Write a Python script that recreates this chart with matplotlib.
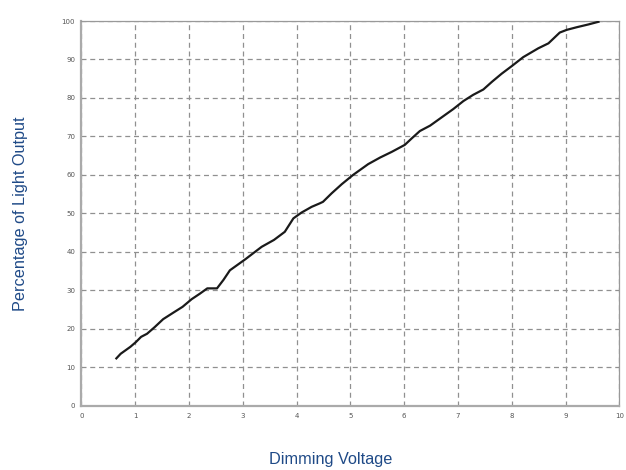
import matplotlib
matplotlib.use("Agg")
import matplotlib.pyplot as plt

voltage = [0.65, 0.73, 0.83, 0.91, 1.01, 1.11, 1.22, 1.36, 1.52, 1.71, 1.88, 2.05,
           2.20, 2.34, 2.52, 2.64, 2.76, 2.90, 3.05, 3.19, 3.35, 3.58, 3.78, 3.94,
           4.09, 4.28, 4.43, 4.49, 4.65, 4.84, 5.05, 5.33, 5.55, 5.77, 6.01, 6.14,
           6.29, 6.48, 6.70, 6.91, 7.10, 7.28, 7.47, 7.63, 7.81, 8.00, 8.21, 8.49,
           8.68, 8.89, 9.02, 9.21, 9.42, 9.61]
light_output = [12.3, 13.5, 14.5, 15.3, 16.5, 17.9, 18.7, 20.4, 22.5, 24.2, 25.7, 27.7,
                29.1, 30.5, 30.5, 32.7, 35.2, 36.6, 38.1, 39.6, 41.3, 43.1, 45.2, 48.7,
                50.2, 51.7, 52.6, 53.0, 55.2, 57.6, 60.0, 62.8, 64.5, 66.0, 67.8, 69.5,
                71.4, 72.8, 75.0, 77.1, 79.2, 80.8, 82.2, 84.2, 86.3, 88.3, 90.6, 92.9,
                94.2, 97.0, 97.7, 98.4, 99.1, 99.8]
x_ticks = [0, 1, 2, 3, 4, 5, 6, 7, 8, 9, 10]
y_ticks = [0, 10, 20, 30, 40, 50, 60, 70, 80, 90, 100]

fig = plt.figure(figsize=(6.26, 4.70), dpi=100)
ax = fig.add_axes([0.130, 0.1368, 0.8596, 0.8185])

ax.plot(voltage, light_output, color="#1a1a1a", linewidth=1.6, zorder=3)

ax.set_xlim(0, 10)
ax.set_ylim(0, 100)
ax.set_xticks(x_ticks)
ax.set_yticks(y_ticks)
ax.set_xticklabels([str(t) for t in x_ticks])
ax.set_yticklabels([str(t) for t in y_ticks])
ax.tick_params(axis="both", length=0, labelsize=5, labelcolor="#555555")
ax.tick_params(axis="x", pad=5)
ax.tick_params(axis="y", pad=4.5)

ax.grid(True, color="#909090", linestyle=(0, (4, 3)), linewidth=0.9, zorder=1)

for side in ["top", "right"]:
    ax.spines[side].set_color("#999999")
    ax.spines[side].set_linewidth(0.9)
for side in ["left", "bottom"]:
    ax.spines[side].set_color("#aaaaaa")
    ax.spines[side].set_linewidth(1.6)

label_color = "#1f4a87"
fig.text(0.032, 0.546, "Percentage of Light Output", rotation=90, ha="center", va="center",
         fontsize=11.7, color=label_color, family="Liberation Sans")
fig.text(0.528, 0.0128, "Dimming Voltage", ha="center", va="baseline",
         fontsize=11.7, color=label_color, family="Liberation Sans")

fig.savefig("out.png", dpi=100)
